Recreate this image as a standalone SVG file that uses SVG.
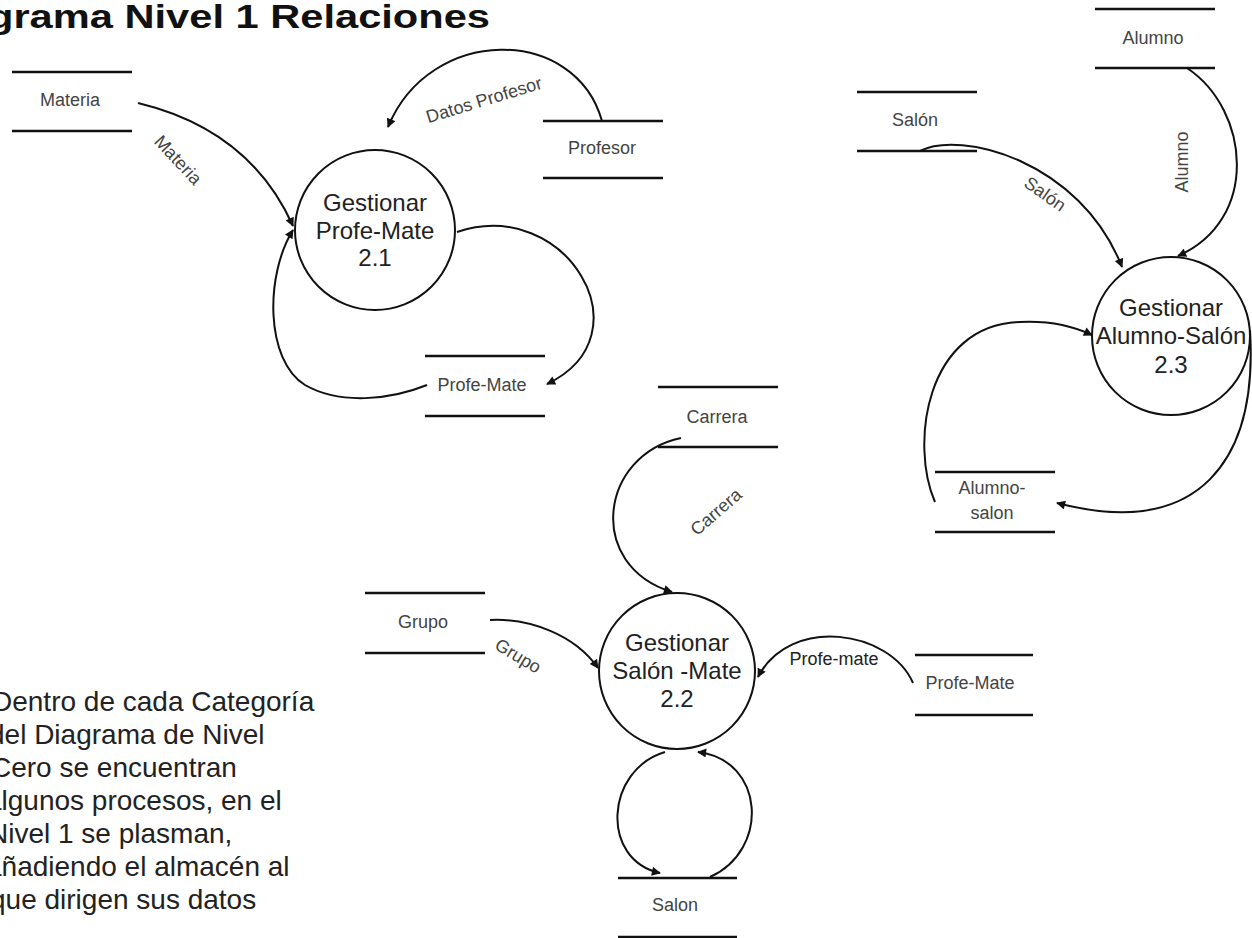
<svg xmlns="http://www.w3.org/2000/svg" width="1252" height="938" viewBox="0 0 1252 938">
  <style>
    .bg { fill: #ffffff; }
    .proc { fill: #ffffff; stroke: #111; stroke-width: 2; }
    .proc-text { font-family: "Liberation Sans", Arial, sans-serif; font-size: 24px; fill: #222; text-anchor: middle; }
    .store-line { stroke: #111; stroke-width: 2.5; }
    .store-text { font-family: "Liberation Sans", Arial, sans-serif; font-size: 18px; fill: #444; text-anchor: middle; }
    .flow { fill: none; stroke: #111; stroke-width: 2; marker-end: url(#arrow); }
    .flow-text { font-family: "Liberation Sans", Arial, sans-serif; font-size: 18px; fill: #444; text-anchor: middle; }
    .title { font-family: "Liberation Sans", Arial, sans-serif; font-size: 34px; font-weight: bold; fill: #111; }
    .note { font-family: "Liberation Sans", Arial, sans-serif; font-size: 28px; fill: #222; }
  </style>
  <defs>
    <marker id="arrow" viewBox="0 0 10 10" refX="9" refY="5" markerWidth="10" markerHeight="9" markerUnits="userSpaceOnUse" orient="auto">
      <path d="M0,0 L10,5 L0,10 z" fill="#111"/>
    </marker>
  </defs>

  <rect class="bg" x="0" y="0" width="1252" height="938"/>

  <text class="title" x="-12" y="28" textLength="502" lengthAdjust="spacingAndGlyphs">grama Nivel 1 Relaciones</text>

  <!-- data flows -->
  <g id="connectors">
    <path class="flow" d="M138,103 Q250,130 293,226"/>
    <path class="flow" d="M602,121 C575,25 430,25 388,127"/>
    <path class="flow" d="M457,232 C565,195 650,335 547,384"/>
    <path class="flow" d="M427,385 C390,400 340,405 305,385 C265,360 265,275 293,230"/>
    <path class="flow" d="M920,151 C960,130 1080,160 1122,267"/>
    <path class="flow" d="M1187,68 C1250,110 1260,220 1178,256"/>
    <path class="flow" d="M1250,330 C1258,460 1200,540 1057,503"/>
    <path class="flow" d="M935,502 C910,445 925,325 1020,322 Q1060,320 1092,335"/>
    <path class="flow" d="M681,438 C600,455 585,565 672,592"/>
    <path class="flow" d="M490,620 C530,618 575,635 598,668"/>
    <path class="flow" d="M913,683 C890,630 790,615 758,677"/>
    <path class="flow" d="M665,752 C605,770 600,860 660,873"/>
    <path class="flow" d="M710,877 C770,850 765,760 698,752"/>

    <text class="flow-text" transform="translate(178,160) rotate(47)" y="6">Materia</text>
    <text class="flow-text" transform="translate(484,100) rotate(-17)" y="6">Datos Profesor</text>
    <text class="flow-text" transform="translate(1045,194) rotate(35)" y="6">Salón</text>
    <text class="flow-text" transform="translate(1182,162) rotate(-90)" y="6">Alumno</text>
    <text class="flow-text" transform="translate(716,512) rotate(-41)" y="6">Carrera</text>
    <text class="flow-text" transform="translate(518,656) rotate(31)" y="6">Grupo</text>
    <text class="flow-text" x="834" y="665" fill="#222" style="fill:#222">Profe-mate</text>
  </g>

  <!-- processes -->
  <g id="p21">
    <circle class="proc" cx="375" cy="230" r="80"/>
    <text class="proc-text" x="375" y="211">Gestionar</text>
    <text class="proc-text" x="375" y="239">Profe-Mate</text>
    <text class="proc-text" x="375" y="266">2.1</text>
  </g>
  <g id="p22">
    <circle class="proc" cx="677" cy="671" r="78"/>
    <text class="proc-text" x="677" y="651">Gestionar</text>
    <text class="proc-text" x="677" y="679">Salón -Mate</text>
    <text class="proc-text" x="677" y="707">2.2</text>
  </g>
  <g id="p23">
    <circle class="proc" cx="1171" cy="336" r="79"/>
    <text class="proc-text" x="1171" y="316">Gestionar</text>
    <text class="proc-text" x="1171" y="344">Alumno-Salón</text>
    <text class="proc-text" x="1171" y="373">2.3</text>
  </g>

  <!-- data stores -->
  <g id="s-materia">
    <line class="store-line" x1="12" y1="72" x2="132" y2="72"/>
    <line class="store-line" x1="12" y1="131" x2="132" y2="131"/>
    <text class="store-text" x="70" y="106">Materia</text>
  </g>
  <g id="s-profesor">
    <line class="store-line" x1="543" y1="121" x2="663" y2="121"/>
    <line class="store-line" x1="543" y1="178" x2="663" y2="178"/>
    <text class="store-text" x="602" y="154">Profesor</text>
  </g>
  <g id="s-profemate1">
    <line class="store-line" x1="425" y1="356" x2="545" y2="356"/>
    <line class="store-line" x1="425" y1="416" x2="545" y2="416"/>
    <text class="store-text" x="482" y="391">Profe-Mate</text>
  </g>
  <g id="s-salon1">
    <line class="store-line" x1="857" y1="92" x2="977" y2="92"/>
    <line class="store-line" x1="857" y1="151" x2="977" y2="151"/>
    <text class="store-text" x="915" y="126">Salón</text>
  </g>
  <g id="s-alumno">
    <line class="store-line" x1="1095" y1="9" x2="1215" y2="9"/>
    <line class="store-line" x1="1095" y1="68" x2="1215" y2="68"/>
    <text class="store-text" x="1153" y="44">Alumno</text>
  </g>
  <g id="s-alumnosalon">
    <line class="store-line" x1="935" y1="472" x2="1055" y2="472"/>
    <line class="store-line" x1="935" y1="532" x2="1055" y2="532"/>
    <text class="store-text" x="992" y="494">Alumno-</text>
    <text class="store-text" x="992" y="519">salon</text>
  </g>
  <g id="s-carrera">
    <line class="store-line" x1="658" y1="387" x2="778" y2="387"/>
    <line class="store-line" x1="658" y1="447" x2="778" y2="447"/>
    <text class="store-text" x="717" y="423">Carrera</text>
  </g>
  <g id="s-grupo">
    <line class="store-line" x1="365" y1="593" x2="485" y2="593"/>
    <line class="store-line" x1="365" y1="653" x2="485" y2="653"/>
    <text class="store-text" x="423" y="628">Grupo</text>
  </g>
  <g id="s-profemate2">
    <line class="store-line" x1="915" y1="655" x2="1033" y2="655"/>
    <line class="store-line" x1="915" y1="715" x2="1033" y2="715"/>
    <text class="store-text" x="970" y="689">Profe-Mate</text>
  </g>
  <g id="s-salon2">
    <line class="store-line" x1="618" y1="878" x2="737" y2="878"/>
    <line class="store-line" x1="618" y1="937" x2="737" y2="937"/>
    <text class="store-text" x="675" y="911">Salon</text>
  </g>

  <!-- explanatory note -->
  <g id="note">
    <text class="note" x="-8" y="711">Dentro de cada Categoría</text>
    <text class="note" x="-11" y="744">del Diagrama de Nivel</text>
    <text class="note" x="-9" y="777">Cero se encuentran</text>
    <text class="note" x="-14" y="810">algunos procesos, en el</text>
    <text class="note" x="-12" y="843">Nivel 1 se plasman,</text>
    <text class="note" x="-14" y="876">añadiendo el almacén al</text>
    <text class="note" x="-10" y="909">que dirigen sus datos</text>
  </g>
</svg>
